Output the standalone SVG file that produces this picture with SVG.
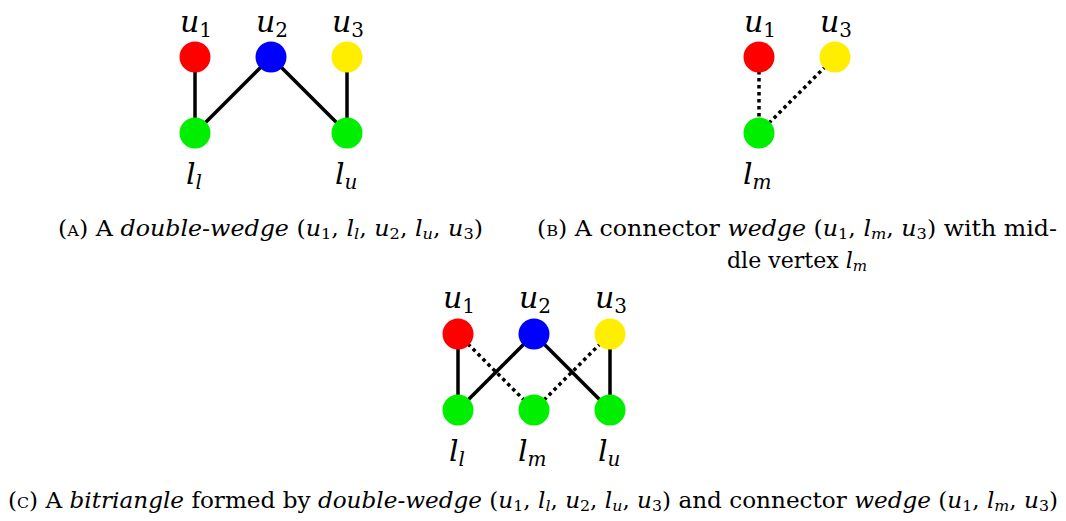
<svg xmlns="http://www.w3.org/2000/svg" width="1066" height="521" viewBox="0 0 1066 521">
<style>
text{font-family:'DejaVu Serif','Liberation Serif',serif}
.lbl{font-size:30px;font-style:italic;fill:#000}
.sub{font-style:normal;font-size:20px}
.subi{font-style:italic;font-size:20px}
.cap{font-size:22px;fill:#000}
.it{font-style:italic}
.sc{font-variant:small-caps}
.s{font-size:15px}
.solid{stroke:#000;stroke-width:3.5;fill:none}
.dot{stroke:#000;stroke-width:3.5;fill:none;stroke-dasharray:3.5 3.5}
.r{fill:#ff0000}.b{fill:#0000ff}.y{fill:#ffee00}.g{fill:#00ee00}
</style>
<g id="connectors">
<line class="solid" x1="195" y1="57" x2="195" y2="133"/>
<line class="solid" x1="195" y1="133" x2="271" y2="57"/>
<line class="solid" x1="271" y1="57" x2="347" y2="133"/>
<line class="solid" x1="347" y1="57" x2="347" y2="133"/>
<line class="dot" x1="759" y1="57" x2="759" y2="133"/>
<line class="dot" x1="759" y1="133" x2="835" y2="57"/>
<line class="solid" x1="458" y1="334" x2="458" y2="410"/>
<line class="solid" x1="458" y1="410" x2="534" y2="334"/>
<line class="solid" x1="534" y1="334" x2="610" y2="410"/>
<line class="solid" x1="610" y1="334" x2="610" y2="410"/>
<line class="dot" x1="458" y1="334" x2="534" y2="410"/>
<line class="dot" x1="534" y1="410" x2="610" y2="334"/>
</g>
<g id="a-u1"><circle class="r" cx="195" cy="57" r="15.5"/><text class="lbl" x="180" y="32">u<tspan class="sub" dy="5">1</tspan></text></g>
<g id="a-u2"><circle class="b" cx="271" cy="57" r="15.5"/><text class="lbl" x="256" y="32">u<tspan class="sub" dy="5">2</tspan></text></g>
<g id="a-u3"><circle class="y" cx="347" cy="57" r="15.5"/><text class="lbl" x="332" y="32">u<tspan class="sub" dy="5">3</tspan></text></g>
<g id="a-ll"><circle class="g" cx="195" cy="133" r="15.5"/><text class="lbl" x="186" y="184">l<tspan class="subi" dy="5">l</tspan></text></g>
<g id="a-lu"><circle class="g" cx="347" cy="133" r="15.5"/><text class="lbl" x="335" y="184">l<tspan class="subi" dy="5">u</tspan></text></g>
<g id="b-u1"><circle class="r" cx="759" cy="57" r="15.5"/><text class="lbl" x="744" y="32">u<tspan class="sub" dy="5">1</tspan></text></g>
<g id="b-u3"><circle class="y" cx="835" cy="57" r="15.5"/><text class="lbl" x="820" y="32">u<tspan class="sub" dy="5">3</tspan></text></g>
<g id="b-lm"><circle class="g" cx="759" cy="133" r="15.5"/><text class="lbl" x="743" y="184">l<tspan class="subi" dy="5">m</tspan></text></g>
<g id="c-u1"><circle class="r" cx="458" cy="334" r="15.5"/><text class="lbl" x="443" y="308">u<tspan class="sub" dy="5">1</tspan></text></g>
<g id="c-u2"><circle class="b" cx="534" cy="334" r="15.5"/><text class="lbl" x="519" y="308">u<tspan class="sub" dy="5">2</tspan></text></g>
<g id="c-u3"><circle class="y" cx="610" cy="334" r="15.5"/><text class="lbl" x="595" y="308">u<tspan class="sub" dy="5">3</tspan></text></g>
<g id="c-ll"><circle class="g" cx="458" cy="410" r="15.5"/><text class="lbl" x="449" y="461">l<tspan class="subi" dy="5">l</tspan></text></g>
<g id="c-lm"><circle class="g" cx="534" cy="410" r="15.5"/><text class="lbl" x="518" y="461">l<tspan class="subi" dy="5">m</tspan></text></g>
<g id="c-lu"><circle class="g" cx="610" cy="410" r="15.5"/><text class="lbl" x="598" y="461">l<tspan class="subi" dy="5">u</tspan></text></g>
<g id="captions">
<text class="cap" x="58" y="236" textLength="425" lengthAdjust="spacingAndGlyphs">(<tspan class="sc">a</tspan>) A <tspan class="it">double-wedge</tspan> (<tspan class="it">u</tspan><tspan class="s" dy="3">1</tspan><tspan dy="-3">, </tspan><tspan class="it">l</tspan><tspan class="s it" dy="3">l</tspan><tspan dy="-3">, </tspan><tspan class="it">u</tspan><tspan class="s" dy="3">2</tspan><tspan dy="-3">, </tspan><tspan class="it">l</tspan><tspan class="s it" dy="3">u</tspan><tspan dy="-3">, </tspan><tspan class="it">u</tspan><tspan class="s" dy="3">3</tspan><tspan dy="-3">)</tspan></text>
<text class="cap" x="537" y="236" textLength="520" lengthAdjust="spacingAndGlyphs">(<tspan class="sc">b</tspan>) A connector <tspan class="it">wedge</tspan> (<tspan class="it">u</tspan><tspan class="s" dy="3">1</tspan><tspan dy="-3">, </tspan><tspan class="it">l</tspan><tspan class="s it" dy="3">m</tspan><tspan dy="-3">, </tspan><tspan class="it">u</tspan><tspan class="s" dy="3">3</tspan><tspan dy="-3">) with mid-</tspan></text>
<text class="cap" x="727" y="268" textLength="140" lengthAdjust="spacingAndGlyphs">dle vertex <tspan class="it">l</tspan><tspan class="s it" dy="3">m</tspan></text>
<text class="cap" x="8" y="508" textLength="1050" lengthAdjust="spacingAndGlyphs">(<tspan class="sc">c</tspan>) A <tspan class="it">bitriangle</tspan> formed by <tspan class="it">double-wedge</tspan> (<tspan class="it">u</tspan><tspan class="s" dy="3">1</tspan><tspan dy="-3">, </tspan><tspan class="it">l</tspan><tspan class="s it" dy="3">l</tspan><tspan dy="-3">, </tspan><tspan class="it">u</tspan><tspan class="s" dy="3">2</tspan><tspan dy="-3">, </tspan><tspan class="it">l</tspan><tspan class="s it" dy="3">u</tspan><tspan dy="-3">, </tspan><tspan class="it">u</tspan><tspan class="s" dy="3">3</tspan><tspan dy="-3">) and connector </tspan><tspan class="it">wedge</tspan> (<tspan class="it">u</tspan><tspan class="s" dy="3">1</tspan><tspan dy="-3">, </tspan><tspan class="it">l</tspan><tspan class="s it" dy="3">m</tspan><tspan dy="-3">, </tspan><tspan class="it">u</tspan><tspan class="s" dy="3">3</tspan><tspan dy="-3">)</tspan></text>
</g>
</svg>
